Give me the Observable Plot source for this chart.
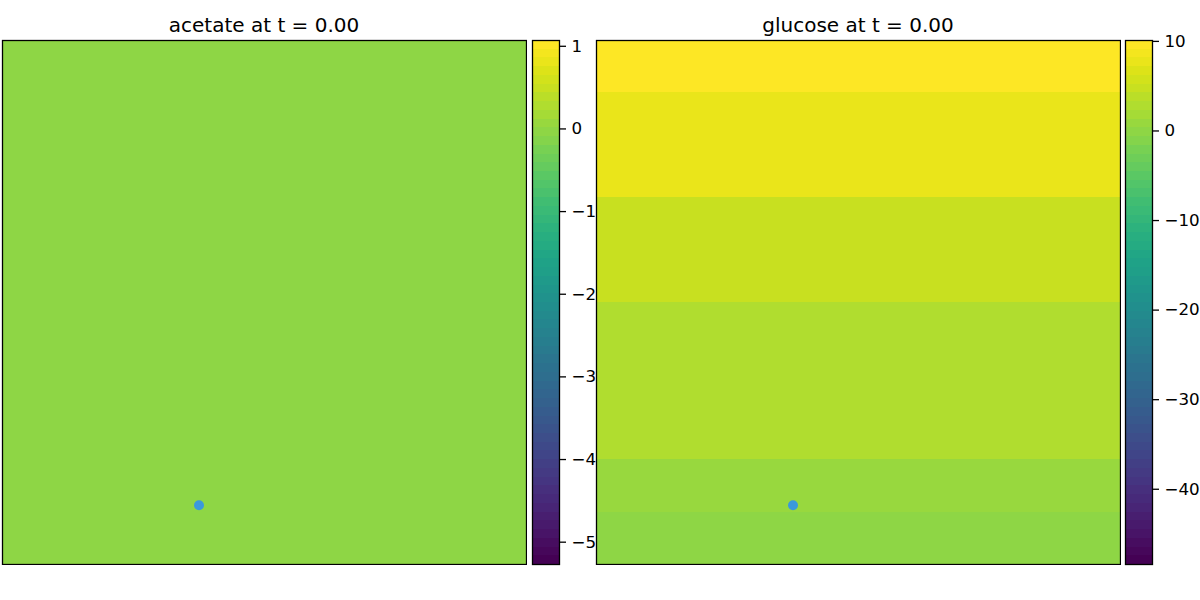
<!DOCTYPE html>
<html>
<head>
<meta charset="utf-8">
<script src="https://cdn.jsdelivr.net/npm/d3@7"></script>
<script src="https://cdn.jsdelivr.net/npm/@observablehq/plot@0.6"></script>
<style>
  html, body { margin: 0; padding: 0; background: #ffffff; }
  #fig { position: relative; width: 1200px; height: 600px; background: #ffffff; overflow: hidden; font-family: "DejaVu Sans", sans-serif; }
  .title { position: absolute; font-size: 20px; line-height: 20px; color: #000; white-space: nowrap; transform: translateX(-50%); }
  .abs { position: absolute; }
</style>
</head>
<body>
<div id="fig"></div>
<script>
// ---------------- data ----------------
const titles = ["acetate at t = 0.00", "glucose at t = 0.00"];
// field values per grid row (top row first), uniform along x
const acetateRows = [0, 0, 0, 0, 0, 0, 0, 0, 0, 0];
const glucoseRows = [9.6, 7.7, 7.6, 4.8, 4.7, 2.9, 2.8, 2.6, 0.9, 0.0];
// colour-bar ranges and ticks
const acetateRange = [-5.27, 1.07];
const glucoseRange = [-48.4, 10.1];
const nLevels = 60;
const acetateTicks = [-5, -4, -3, -2, -1, 0, 1];
const glucoseTicks = [-40, -30, -20, -10, 0, 10];
// probe point (fraction of domain)
const probeX = [0.375];
const probeY = [0.113];

// ---------------- helpers ----------------
const fig = document.getElementById("fig");
const FONT = "DejaVu Sans";
const PAD = 14;

function levelsFor(range) {
  return d3.range(nLevels + 1).map(i => range[0] + i * (range[1] - range[0]) / nLevels);
}
function colorScale(levels) {
  return {type: "threshold", domain: levels.slice(1, -1), range: d3.quantize(d3.interpolateViridis, nLevels)};
}
function place(node, left, top) {
  node.classList.add("abs");
  node.style.left = left + "px";
  node.style.top = top + "px";
  fig.appendChild(node);
}

function panel(rows, range, ticks, title, left, cbLeft) {
  const levels = levelsFor(range);
  const n = rows.length;
  const cells = rows.map((v, i) => ({v, lo: (n - 1 - i) / n, hi: (n - i) / n}));
  const probe = probeX.map((x, i) => ({x, y: probeY[i]}));

  const field = Plot.plot({
    width: 526, height: 526,
    marginTop: 1, marginBottom: 1, marginLeft: 1, marginRight: 1,
    style: {background: "transparent", fontFamily: FONT},
    x: {domain: [0, 1], axis: null},
    y: {domain: [0, 1], axis: null},
    color: colorScale(levels),
    marks: [
      Plot.rect(cells, {y1: "lo", y2: "hi", fill: "v", shapeRendering: "crispEdges"}),
      Plot.dot(probe, {x: "x", y: "y", r: 5, fill: "#3a99dc", stroke: "none"}),
      Plot.frame({stroke: "black", strokeWidth: 1.3})
    ]
  });
  place(field, left - 1, 39);

  const bands = d3.range(nLevels).map(i => ({lo: levels[i], hi: levels[i + 1], mid: (levels[i] + levels[i + 1]) / 2}));
  const cbar = Plot.plot({
    width: 28 + 62, height: 524 + 2 * PAD,
    marginTop: PAD, marginBottom: PAD, marginLeft: 1, marginRight: 62,
    style: {background: "transparent", fontFamily: FONT, fontSize: "16.7px", color: "black", overflow: "visible"},
    x: {domain: [0, 1], axis: null},
    y: {domain: range, axis: null},
    color: colorScale(levels),
    marks: [
      Plot.rect(bands, {y1: "lo", y2: "hi", fill: "mid", shapeRendering: "crispEdges"}),
      Plot.frame({stroke: "black", strokeWidth: 1.3}),
      Plot.axisY(ticks, {anchor: "right", tickSize: 6, tickPadding: 6, strokeWidth: 1.3,
        fontSize: 16.7, tickFormat: d3.format("d")})
    ]
  });
  place(cbar, cbLeft - 1, 40 - PAD);

  const t = document.createElement("div");
  t.className = "title";
  t.textContent = title;
  t.style.left = (left + 262) + "px";
  t.style.top = "15px";
  fig.appendChild(t);
}

panel(acetateRows, acetateRange, acetateTicks, titles[0], 2, 532);
panel(glucoseRows, glucoseRange, glucoseTicks, titles[1], 596, 1125);
</script>
</body>
</html>
